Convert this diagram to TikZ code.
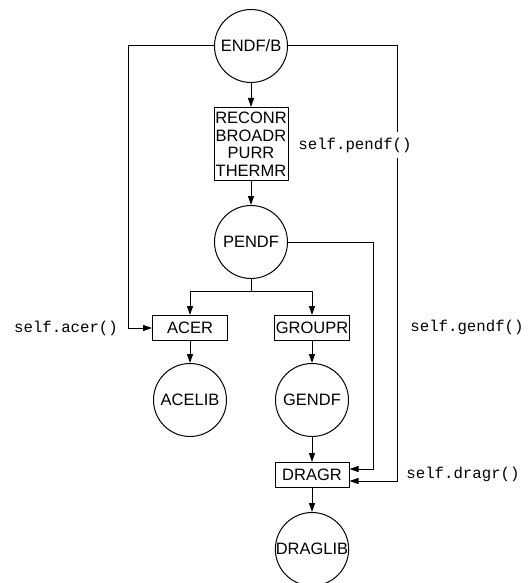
\documentclass[tikz,border=0pt]{standalone}
\usepackage{fontspec}
\setmainfont{Liberation Sans}
\setmonofont{Liberation Mono}
\usetikzlibrary{arrows.meta, positioning}

\begin{document}
\begin{tikzpicture}[
    x=1pt, y=-1pt, line width=1pt, >={Triangle[length=9pt,width=6pt]},
    font=\fontsize{16.5}{17.5}\selectfont,
    db/.style  ={circle, draw, minimum size=73pt, inner sep=0pt},
    mod/.style ={rectangle, draw, minimum width=74pt, minimum height=25pt, inner sep=1pt, align=center},
    call/.style={fill=white, font=\fontsize{15.7}{17.5}\selectfont\ttfamily, inner xsep=1pt, inner ysep=6pt},
]
\useasboundingbox (0,0) rectangle (528,583);
% data files and modules
\node[db] (endf) at (251,46) {ENDF/B};
\node[mod, minimum height=73pt, below=24pt of endf] (proc) {RECONR\\BROADR\\PURR\\THERMR};
\node[db, below=24pt of proc] (pendf) {PENDF};
\node[mod, minimum width=75pt] (acer) at (190,328) {ACER};
\node[mod, minimum width=73pt] (groupr) at (312,328) {GROUPR};
\node[db, below=22pt of acer]   (acelib)  {ACELIB};
\node[db, below=22pt of groupr] (gendf)   {GENDF};
\node[mod, below=25pt of gendf] (dragr)   {DRAGR};
\node[db, below=24pt of dragr]  (draglib) {DRAGLIB};
% corners of the routed lines
\coordinate (fork) at (251,291);
\coordinate (lft)  at (128,328);
\coordinate (mid)  at (373,469);
\coordinate (rgt)  at (397,481);
\draw[->] (endf) -- (proc);
\draw[->] (proc) -- (pendf);
\draw (pendf) -- (fork);
\draw[->] (fork) -| (acer);
\draw[->] (fork) -| (groupr);
\draw[->] (acer) -- (acelib);
\draw[->] (groupr) -- (gendf);
\draw[->] (gendf) -- (dragr);
\draw[->] (dragr) -- (draglib);
\draw[->] (endf) -| (lft) -- (acer);
\draw[->] (pendf) -| (mid) -- (mid -| dragr.east);
\draw[->] (endf) -| (rgt) -- (rgt -| dragr.east);
% method labels
\node[call] (lblpendf) at (355,145) {self.pendf()};
\node[call] (lblacer)  at (66,328)  {self.acer()};
\node[call] (lblgendf) at (467,327) {self.gendf()};
\node[call] (lbldragr) at (463,474) {self.dragr()};
\end{tikzpicture}
\end{document}
